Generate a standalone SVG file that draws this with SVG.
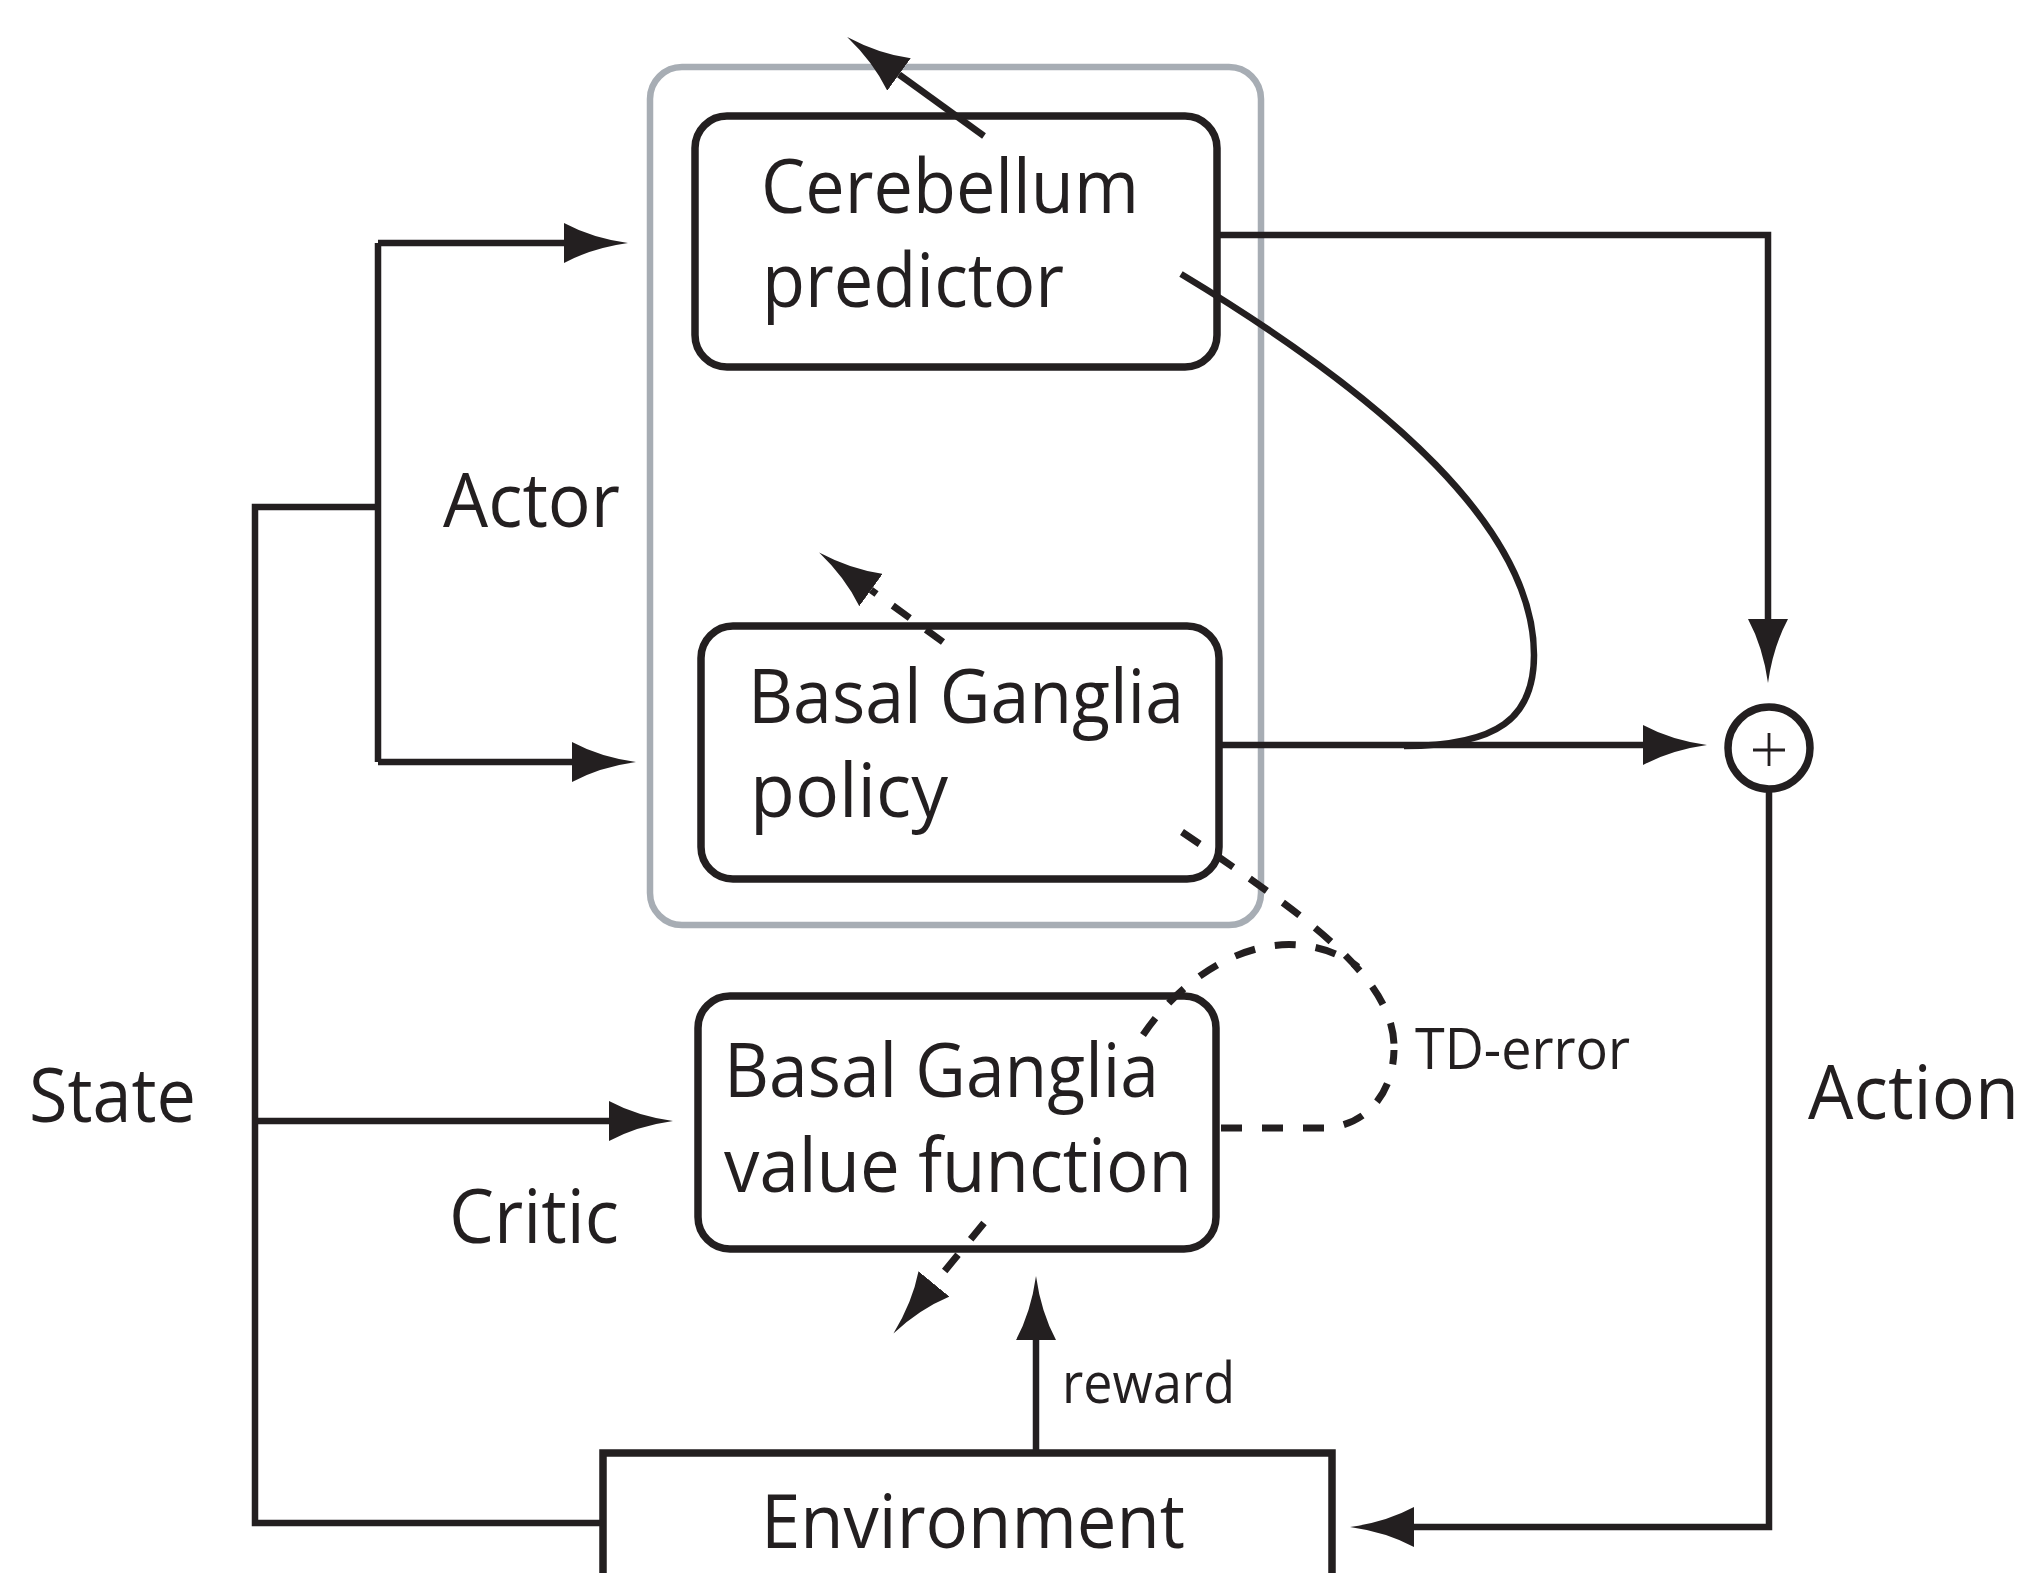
<svg xmlns="http://www.w3.org/2000/svg" width="2030" height="1573" viewBox="0 0 2030 1573">
<style>
.bg{fill:#ffffff}
.grp{fill:none;stroke:#a7adb4;stroke-width:6.5}
.box{fill:#ffffff;stroke:#231f20;stroke-width:7.5}
.ln{fill:none;stroke:#231f20;stroke-width:6.5}
.dash{fill:none;stroke:#231f20;stroke-width:7;stroke-dasharray:21 20}
.lbl{font-family:"Open Sans","Liberation Sans",sans-serif;font-size:75px;fill:#231f20}
.sm{font-family:"Open Sans","Liberation Sans",sans-serif;font-size:56px;fill:#231f20}
.ah{fill:#231f20;stroke:none}
</style>
<defs>
<marker id="arr" viewBox="0 -20 64 40" markerWidth="64" markerHeight="40" refX="0" refY="0" orient="auto" markerUnits="userSpaceOnUse">
<path class="ah" d="M64 0 Q28 -5 0 -20 L0 20 Q28 5 64 0 Z"/>
</marker>
</defs>
<rect class="bg" x="0" y="0" width="2030" height="1573"/>
<g id="actor-group">
<rect class="grp" x="650" y="67" width="611" height="858" rx="32"/>
</g>
<g id="cerebellum">
<rect class="box" x="695" y="116" width="522" height="251" rx="32"/>
<text class="lbl" x="761" y="213" textLength="378" lengthAdjust="spacingAndGlyphs">Cerebellum</text>
<text class="lbl" x="762" y="307" textLength="302" lengthAdjust="spacingAndGlyphs">predictor</text>
</g>
<g id="bg-policy">
<rect class="box" x="701" y="626" width="518" height="253" rx="32"/>
<text class="lbl" x="748" y="723" textLength="436" lengthAdjust="spacingAndGlyphs">Basal Ganglia</text>
<text class="lbl" x="750" y="817" textLength="198" lengthAdjust="spacingAndGlyphs">policy</text>
</g>
<g id="bg-value">
<rect class="box" x="698" y="996" width="518" height="253" rx="32"/>
<text class="lbl" x="724" y="1097" textLength="435" lengthAdjust="spacingAndGlyphs">Basal Ganglia</text>
<text class="lbl" x="724" y="1192" textLength="468" lengthAdjust="spacingAndGlyphs">value function</text>
</g>
<g id="environment">
<rect class="box" x="603" y="1453" width="729" height="200"/>
<text class="lbl" x="761" y="1548" textLength="424" lengthAdjust="spacingAndGlyphs">Environment</text>
</g>
<g id="sum">
<circle class="box" cx="1769" cy="748" r="41"/>
<path d="M1753 750 H1785 M1769 733 V766" fill="none" stroke="#231f20" stroke-width="2.8"/>
</g>
<g id="connectors">
<path class="ln" d="M378 507 H255 V1523 H603"/>
<path class="ln" d="M378 243 V762"/>
<path class="ln" d="M378 243 H564" marker-end="url(#arr)"/>
<path class="ln" d="M378 762 H572" marker-end="url(#arr)"/>
<path class="ln" d="M255 1121 H609" marker-end="url(#arr)"/>
<path class="ln" d="M1219 235 H1768 V619" marker-end="url(#arr)"/>
<path class="ln" d="M1219 745 H1643" marker-end="url(#arr)"/>
<path class="ln" d="M1769 789 V1527 H1414" marker-end="url(#arr)"/>
<path class="ln" d="M1036 1453 V1340" marker-end="url(#arr)"/>
<path class="ln" d="M1181 274 C1390 400 1534 530 1534 655 C1534 718 1498 746 1404 746"/>
<path class="ln" d="M984 136 L899 74.5" marker-end="url(#arr)"/>
<path class="dash" d="M943 642 L871 590" marker-end="url(#arr)"/>
<path class="dash" d="M984 1223 L934 1284" marker-end="url(#arr)"/>
<path class="dash" d="M1221 1128 H1325 C1365 1126 1393 1095 1394 1050"/>
<path class="dash" d="M1182 832 C1260 885 1310 920 1345 955 C1380 990 1395 1020 1394 1050"/>
<path class="dash" d="M1143 1035 C1170 995 1215 955 1270 946 C1305 941 1335 950 1358 967"/>
</g>
<g id="labels">
<text class="lbl" x="443" y="527" textLength="177" lengthAdjust="spacingAndGlyphs">Actor</text>
<text class="lbl" x="29" y="1122" textLength="167" lengthAdjust="spacingAndGlyphs">State</text>
<text class="lbl" x="449" y="1243" textLength="170" lengthAdjust="spacingAndGlyphs">Critic</text>
<text class="lbl" x="1808" y="1119" textLength="211" lengthAdjust="spacingAndGlyphs">Action</text>
<text class="sm" x="1062" y="1403" textLength="173" lengthAdjust="spacingAndGlyphs">reward</text>
<text class="sm" x="1415" y="1069" textLength="215" lengthAdjust="spacingAndGlyphs">TD-error</text>
</g>
</svg>
